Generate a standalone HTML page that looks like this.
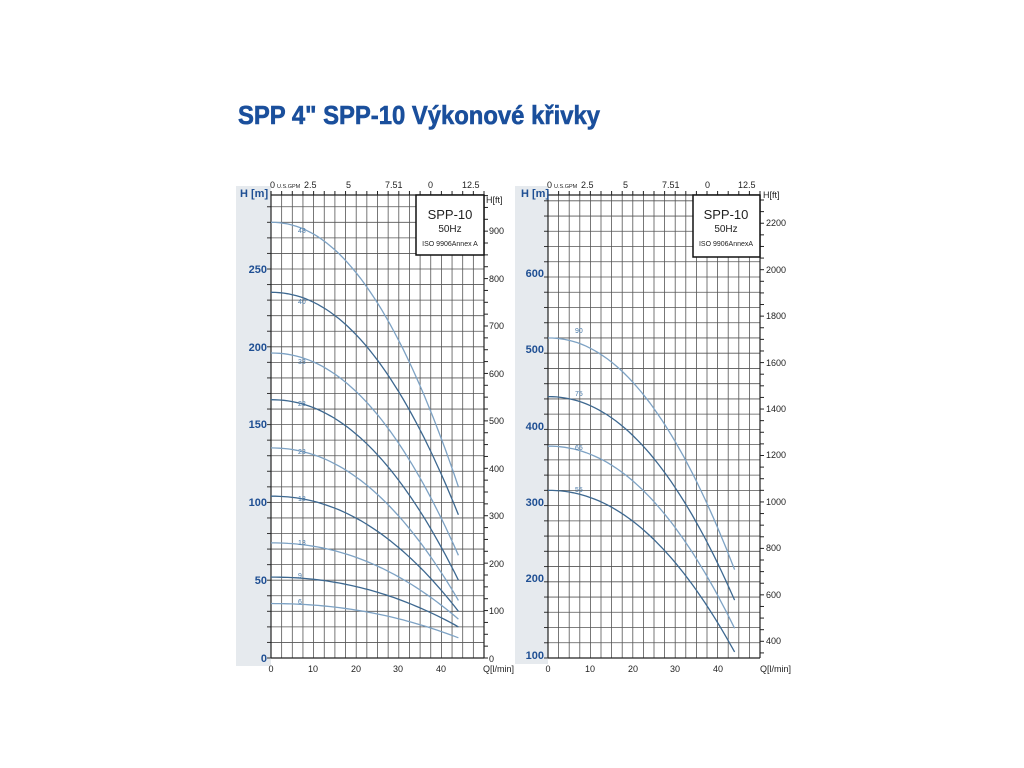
<!DOCTYPE html>
<html><head><meta charset="utf-8"><style>
html,body{margin:0;padding:0;background:#fff;width:1024px;height:768px;overflow:hidden}
svg{display:block}
text{font-family:"Liberation Sans",sans-serif}
.ax{fill:#1f4f93;font-weight:bold;font-size:11px}
.t{fill:#222;font-size:9px}
.lb{fill:#4a7aa8;font-size:7px}
</style></head><body>
<svg id="s" width="1024" height="768" xmlns="http://www.w3.org/2000/svg">
<text x="238" y="124" fill="#1a4f9c" font-weight="bold" font-size="26" textLength="362" lengthAdjust="spacingAndGlyphs" stroke="#1a4f9c" stroke-width="0.6">SPP 4" SPP-10 Výkonové křivky</text>
<rect x="236" y="186" width="35" height="480" fill="#e6eaee"/>
<rect x="515" y="186" width="33" height="478" fill="#e6eaee"/>
<g id="g"></g>
<text x="240" y="197" class="ax" font-size="9">H [m]</text>
<text x="267" y="662" class="ax" text-anchor="end">0</text>
<text x="267" y="584" class="ax" text-anchor="end">50</text>
<text x="267" y="506" class="ax" text-anchor="end">100</text>
<text x="267" y="428" class="ax" text-anchor="end">150</text>
<text x="267" y="351" class="ax" text-anchor="end">200</text>
<text x="267" y="273" class="ax" text-anchor="end">250</text>
<g class="t" text-anchor="middle">
<text x="271" y="672">0</text><text x="313" y="672">10</text><text x="356" y="672">20</text><text x="398" y="672">30</text><text x="441" y="672">40</text>
<text x="548" y="672">0</text><text x="590" y="672">10</text><text x="633" y="672">20</text><text x="675" y="672">30</text><text x="718" y="672">40</text>
</g>
<text x="483" y="672" class="t">Q[l/min]</text>
<text x="760" y="672" class="t">Q[l/min]</text>
<g class="t" font-size="8.5">
<text x="270" y="188">0</text><text x="277" y="188" font-size="5.5">U.S.GPM</text><text x="304" y="188">2.5</text><text x="346" y="188">5</text><text x="385" y="188">7.51</text><text x="428" y="188">0</text><text x="462" y="188">12.5</text>
<text x="547" y="188">0</text><text x="554" y="188" font-size="5.5">U.S.GPM</text><text x="581" y="188">2.5</text><text x="623" y="188">5</text><text x="662" y="188">7.51</text><text x="705" y="188">0</text><text x="738" y="188">12.5</text>
<text x="486" y="203">H[ft]</text><text x="763" y="198">H[ft]</text>
<text x="489" y="662">0</text><text x="489" y="614">100</text><text x="489" y="567">200</text><text x="489" y="519">300</text><text x="489" y="472">400</text><text x="489" y="424">500</text><text x="489" y="377">600</text><text x="489" y="329">700</text><text x="489" y="282">800</text><text x="489" y="234">900</text>
<text x="766" y="644">400</text><text x="766" y="598">600</text><text x="766" y="551">800</text><text x="766" y="505">1000</text><text x="766" y="458">1200</text><text x="766" y="412">1400</text><text x="766" y="366">1600</text><text x="766" y="319">1800</text><text x="766" y="273">2000</text><text x="766" y="226">2200</text>
</g>
<text x="521" y="197" class="ax" font-size="9">H [m]</text>
<text x="544" y="659" class="ax" text-anchor="end">100</text>
<text x="544" y="582" class="ax" text-anchor="end">200</text>
<text x="544" y="506" class="ax" text-anchor="end">300</text>
<text x="544" y="430" class="ax" text-anchor="end">400</text>
<text x="544" y="353" class="ax" text-anchor="end">500</text>
<text x="544" y="277" class="ax" text-anchor="end">600</text>
<g id="boxes">
<rect x="416" y="195" width="68" height="60" fill="#fff" stroke="#111" stroke-width="1.5"/>
<text x="450" y="219" font-size="13" text-anchor="middle" fill="#222">SPP-10</text>
<text x="450" y="232" font-size="10" text-anchor="middle" fill="#222">50Hz</text>
<text x="450" y="246" font-size="7" text-anchor="middle" fill="#222">ISO 9906Annex A</text>
<rect x="693" y="195" width="67" height="62" fill="#fff" stroke="#111" stroke-width="1.5"/>
<text x="726" y="219" font-size="13" text-anchor="middle" fill="#222">SPP-10</text>
<text x="726" y="232" font-size="10" text-anchor="middle" fill="#222">50Hz</text>
<text x="726" y="246" font-size="7" text-anchor="middle" fill="#222">ISO 9906AnnexA</text>
</g>
<g class="lb">
<text x="298" y="233">48</text><text x="298" y="304">40</text><text x="298" y="364">33</text><text x="298" y="406">28</text><text x="298" y="454">23</text><text x="298" y="501">18</text><text x="298" y="545">13</text><text x="298" y="578">9</text><text x="298" y="604">6</text>
<text x="575" y="333">90</text><text x="575" y="396">75</text><text x="575" y="450">65</text><text x="575" y="492">55</text>
</g>
</svg>
<script>
var g=document.getElementById('g'),h='';
function L(x1,y1,x2,y2,c,w){h+='<line x1="'+x1+'" y1="'+y1+'" x2="'+x2+'" y2="'+y2+'" stroke="'+c+'" stroke-width="'+w+'"/>';}
function chart(x0,w,yb,ytop,ppm,hmin,step,ftTick,curves){
  var x1=x0+w, sx=w/50;
  for(var i=0;i<=20;i++){var x=x0+i*w/20;L(x,ytop,x,yb,'#555',0.8);}
  for(var v=hmin;;v+=step){var y=yb-(v-hmin)*ppm;if(y<ytop-0.5)break;L(x0,y,x1,y,'#555',0.8);L(x0-4,y,x0,y,'#333',1);}
  L(x0,ytop,x1,ytop,'#222',1.2);L(x0,yb,x1,yb,'#222',1.2);L(x0,ytop-4,x0,yb,'#222',1.2);L(x1,ytop,x1,yb,'#222',1.2);
  for(var i=0;i<=20;i++){var x=x0+i*w/20;L(x,ytop-4,x,ytop,'#222',1);}
  for(var f=0;;f+=ftTick){var m=f*0.3048;if(m<hmin)continue;var y=yb-(m-hmin)*ppm;if(y<ytop)break;L(x1,y,x1+4,y,'#222',1);}
  curves.forEach(function(c,k){var d='';for(var q=0;q<=44;q+=1){var H=c[0]-(c[0]-c[1])*Math.pow(q/44,2.1);d+=(q?'L':'M')+(x0+q*sx).toFixed(1)+','+(yb-(H-hmin)*ppm).toFixed(1);}
    h+='<path d="'+d+'" fill="none" stroke="'+(k%2?'#3d6890':'#7da2c4')+'" stroke-width="1.3"/>';});
}
chart(271,213,658,195,1.556,0,10,25,[[280,110],[235,92],[196,66],[166,50],[135,37],[104,30],[74,25],[52,20],[35,13]]);
chart(548,212,658,195,0.762,100,20,50,[[520,216],[443,176],[378,139],[320,108]]);
g.innerHTML=h;
</script>
</body></html>
